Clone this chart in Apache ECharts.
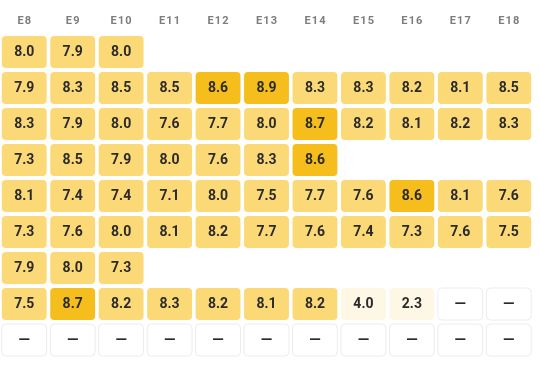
<!DOCTYPE html>
<html>
<head>
<meta charset="utf-8">
<script src="https://cdn.jsdelivr.net/npm/echarts@6/dist/echarts.min.js"></script>
<style>
html,body{margin:0;padding:0;background:#fff;}
#c{width:540px;height:376px;}
</style>
</head>
<body>
<div id="c"></div>
<script>
// Column categories (header labels)
const columns = ['E8','E9','E10','E11','E12','E13','E14','E15','E16','E17','E18'];
// Rows top to bottom; null = no cell, '-' = empty cell shown with a dash
const row0 = [8.0, 7.9, 8.0, null, null, null, null, null, null, null, null];
const row1 = [7.9, 8.3, 8.5, 8.5, 8.6, 8.9, 8.3, 8.3, 8.2, 8.1, 8.5];
const row2 = [8.3, 7.9, 8.0, 7.6, 7.7, 8.0, 8.7, 8.2, 8.1, 8.2, 8.3];
const row3 = [7.3, 8.5, 7.9, 8.0, 7.6, 8.3, 8.6, null, null, null, null];
const row4 = [8.1, 7.4, 7.4, 7.1, 8.0, 7.5, 7.7, 7.6, 8.6, 8.1, 7.6];
const row5 = [7.3, 7.6, 8.0, 8.1, 8.2, 7.7, 7.6, 7.4, 7.3, 7.6, 7.5];
const row6 = [7.9, 8.0, 7.3, null, null, null, null, null, null, null, null];
const row7 = [7.5, 8.7, 8.2, 8.3, 8.2, 8.1, 8.2, 4.0, 2.3, '-', '-'];
const row8 = ['-', '-', '-', '-', '-', '-', '-', '-', '-', '-', '-'];
const rowNames = ['R1','R2','R3','R4','R5','R6','R7','R8','R9'];
const rows = [row0,row1,row2,row3,row4,row5,row6,row7,row8];

const data = [];
rows.forEach((r, ri) => {
  r.forEach((v, ci) => {
    if (v === null) return;
    data.push([ci, ri, v === '-' ? null : v]);
  });
});

function cellColor(v) {
  if (v === null) return '#ffffff';
  if (v < 5) return '#fff7e6';
  if (v >= 8.55) return '#f5be1d';
  return '#fcd977';
}

const chart = echarts.init(document.getElementById('c'), null, {renderer: 'canvas'});
chart.setOption({
  animation: false,
  grid: {left: -0.5, right: 7, top: 34, bottom: 18},
  xAxis: {
    type: 'category', data: columns, position: 'top',
    axisLine: {show: false}, axisTick: {show: false}, splitLine: {show: false},
    axisLabel: {
      color: '#7d7d7d', fontSize: 11, fontWeight: 'bold', fontFamily: 'Roboto', margin: 7,
      formatter: function (v) { return v.split('').join('\u200A'); }
    }
  },
  yAxis: {
    type: 'category', data: rowNames, inverse: true, show: false
  },
  series: [{
    type: 'custom',
    data: data,
    encode: {x: 0, y: 1},
    renderItem: function (params, api) {
      const x = api.value(0), y = api.value(1);
      const v = api.value(2);
      const isNull = (v === null || v === undefined || v === '-' || isNaN(v));
      const c = api.coord([x, y]);
      const s = api.size([1, 1]);
      const w = s[0] - 3.6, h = s[1] - 4;
      const val = isNull ? null : v;
      return {
        type: 'group',
        children: [{
          type: 'rect',
          shape: {x: c[0] - w / 2, y: c[1] - h / 2, width: w, height: h, r: 4},
          style: {
            fill: cellColor(val),
            stroke: val === null ? '#ececec' : null,
            lineWidth: val === null ? 1 : 0
          }
        }, {
          type: 'text',
          style: {
            x: c[0], y: c[1] + 0.5,
            text: val === null ? '—' : val.toFixed(1),
            align: 'center', verticalAlign: 'middle',
            fill: '#2a2a2a',
            font: val === null ? 'bold 15px Roboto' : 'bold 14px Roboto'
          }
        }]
      };
    }
  }]
});
</script>
</body>
</html>
